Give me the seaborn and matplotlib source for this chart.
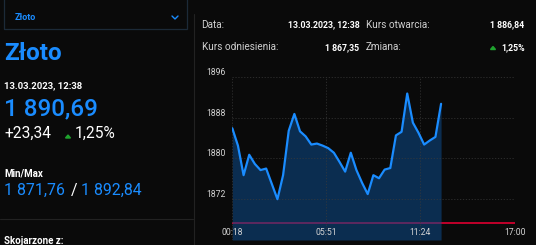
import matplotlib
matplotlib.use("Agg")
import matplotlib.pyplot as plt
import seaborn as sns
import pandas as pd
from matplotlib.patches import Rectangle, Polygon
from matplotlib.lines import Line2D

# ---- data ----
start_min = 18
step_min = 20
prices = [1885.9, 1882.5, 1876.7, 1880.7, 1878.9, 1877.7, 1878.0, 1875.0, 1872.0, 1876.7,
          1885.4, 1888.7, 1885.3, 1884.3, 1882.7, 1882.9, 1882.5, 1882.0, 1881.1, 1879.3,
          1877.4, 1881.1, 1877.7, 1875.2, 1873.0, 1876.7, 1876.1, 1877.8, 1878.1, 1884.5,
          1885.2, 1892.7, 1887.0, 1885.0, 1882.7, 1883.5, 1884.2, 1890.69]
minutes = [start_min + step_min * i for i in range(len(prices))]
reference_price = 1867.35
x_ticks = [18, 351, 684, 1020]
x_tick_labels = ["00:18", "05:51", "11:24", "17:00"]
y_ticks = [1872, 1880, 1888, 1896]
y_range = (1864, 1896)

BG = "#0a0a0a"
BLUE = "#1a8cff"
GREEN = "#1fa32e"

sns.set_style("dark", rc={"axes.facecolor": BG, "figure.facecolor": BG})
plt.rcParams["font.family"] = ["Roboto", "DejaVu Sans"]

W, H = 536, 245
fig = plt.figure(figsize=(W / 100, H / 100), dpi=100)
fig.patch.set_facecolor(BG)

def fx(x):
    return x / W

def fy(y):
    return 1 - y / H

# ---- chart ----
ax = fig.add_axes([fx(232.3), fy(240), fx(515) - fx(232.3), fy(76.7) - fy(240)])
ax.set_facecolor(BG)
ax.set_axisbelow(False)
df = pd.DataFrame({"t": minutes, "p": prices})
ax.axhline(reference_price, color="#c0002a", lw=1.4, zorder=1)
ax.fill_between(df["t"], df["p"], y_range[0], color="#0d4a8a", alpha=0.55, lw=0, zorder=2)
sns.lineplot(data=df, x="t", y="p", ax=ax, color=BLUE, lw=1.6, zorder=3)
ax.set_xlim(18, 1020)
ax.set_ylim(*y_range)
ax.set_xticks(x_ticks)
ax.set_xticklabels(x_tick_labels)
ax.set_yticks(y_ticks)
ax.set_yticklabels([str(v) for v in y_ticks])
ax.set_xlabel("")
ax.set_ylabel("")
ax.grid(True, color="#3a3a3a", ls=(0, (1.5, 2)), lw=0.6, alpha=0.8)
for s in ax.spines.values():
    s.set_visible(False)
ax.tick_params(axis="x", length=0, pad=-8.8, labelsize=6.2, labelcolor="#d4d4d4")
ax.tick_params(axis="y", length=0, pad=5, labelsize=6.2, labelcolor="#d4d4d4")
for lab in ax.get_yticklabels():
    lab.set_va("bottom")

# ---- left panel ----
fig.add_artist(Rectangle((fx(4), fy(29)), fx(187) - fx(4), fy(-5) - fy(29),
                         transform=fig.transFigure, fill=False, ec="#1c2a38", lw=0.9))
fig.text(fx(15), fy(17), "Złoto", color=BLUE, fontsize=6.5, fontweight="bold", va="center")
fig.add_artist(Line2D([fx(172), fx(175), fx(178)], [fy(16), fy(19), fy(16)],
                      transform=fig.transFigure, color=BLUE, lw=1.0))
fig.add_artist(Line2D([fx(193.5), fx(193.5)], [fy(14), fy(245)],
                      transform=fig.transFigure, color="#222222", lw=0.8))
fig.add_artist(Line2D([0, fx(193)], [fy(219), fy(219)],
                      transform=fig.transFigure, color="#222222", lw=0.8))

fig.text(fx(4), fy(54), "Złoto", color=BLUE, fontsize=17.5, fontweight="bold", va="center")
fig.text(fx(4.5), fy(85.5), "13.03.2023, 12:38", color="white", fontsize=6.8,
         fontweight="bold", va="center")
fig.text(fx(4), fy(108.5), "1 890,69", color=BLUE, fontsize=17.5, fontweight="medium", va="center")
fig.text(fx(4.5), fy(133.5), "+23,34", color="white", fontsize=11.2, va="center")
fig.add_artist(Polygon([[fx(65.5), fy(138)], [fx(70.5), fy(138)], [fx(68), fy(135)]],
                       transform=fig.transFigure, color=GREEN))
fig.text(fx(74.5), fy(133.5), "1,25%", color="white", fontsize=11.2, va="center")
fig.text(fx(4.5), fy(173), "Min/Max", color="white", fontsize=7, fontweight="bold", va="center")
fig.text(fx(4.5), fy(190), "1 871,76", color=BLUE, fontsize=11.4, va="center")
fig.text(fx(70.5), fy(190), "/", color="white", fontsize=11.4, va="center")
fig.text(fx(81), fy(190), "1 892,84", color=BLUE, fontsize=11.4, va="center")
fig.text(fx(4.5), fy(241), "Skojarzone z:", color="white", fontsize=7, fontweight="bold", va="center")

# ---- top table ----
LG = "#d0d0d0"
fig.text(fx(201.5), fy(25), "Data:", color=LG, fontsize=7.2, va="center")
fig.text(fx(359.5), fy(25), "13.03.2023, 12:38", color="white", fontsize=6.3,
         fontweight="bold", va="center", ha="right")
fig.text(fx(365.5), fy(25), "Kurs otwarcia:", color=LG, fontsize=7.2, va="center")
fig.text(fx(524.5), fy(25), "1 886,84", color="white", fontsize=6.3,
         fontweight="bold", va="center", ha="right")
fig.text(fx(201.5), fy(47.5), "Kurs odniesienia:", color=LG, fontsize=7.2, va="center")
fig.text(fx(359.5), fy(47.5), "1 867,35", color="white", fontsize=6.3,
         fontweight="bold", va="center", ha="right")
fig.text(fx(365.5), fy(47.5), "Zmiana:", color=LG, fontsize=7.2, va="center")
fig.add_artist(Polygon([[fx(490.5), fy(49.5)], [fx(495.5), fy(49.5)], [fx(493), fy(46.5)]],
                       transform=fig.transFigure, color=GREEN))
fig.text(fx(524.5), fy(47.5), "1,25%", color="white", fontsize=6.3,
         fontweight="bold", va="center", ha="right")

fig.savefig("out.png", dpi=100, facecolor=BG)
